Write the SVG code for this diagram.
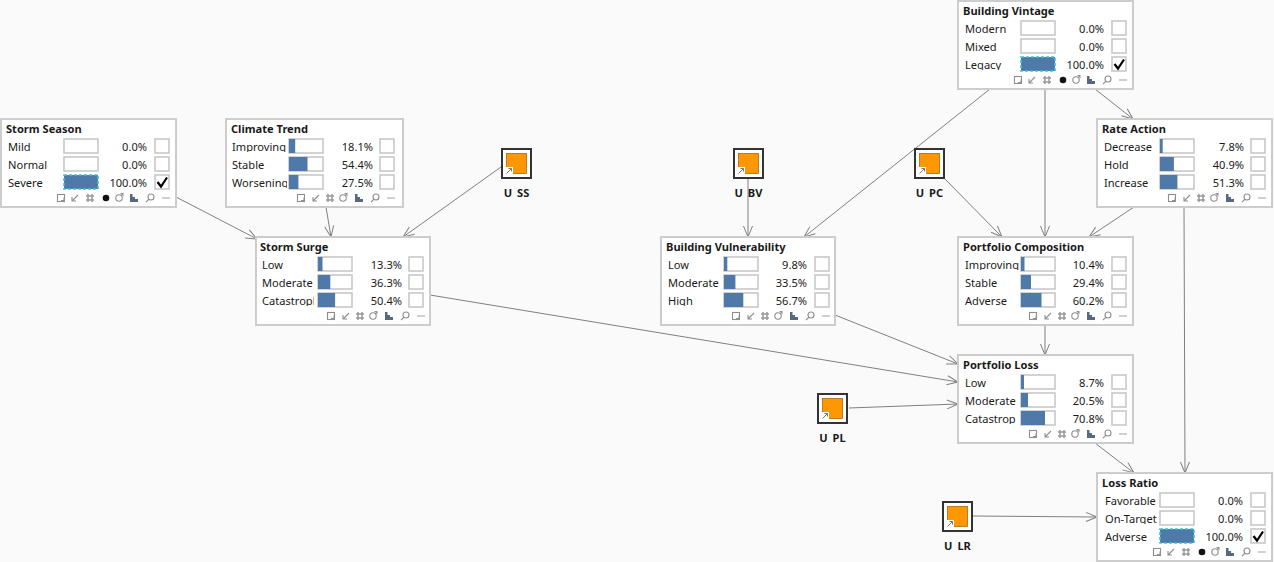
<svg xmlns="http://www.w3.org/2000/svg" width="1274" height="562" viewBox="0 0 1274 562">
<style>
text{font-family:"Noto Sans","Open Sans","DejaVu Sans",sans-serif;font-size:11.1px;fill:#1a1a1a}
.t{font-weight:700}
.p{text-anchor:end}
.u{font-weight:700;text-anchor:middle;word-spacing:2px}
.n{fill:#fff;stroke:#cdcdcd;stroke-width:2}
.b{fill:#fff;stroke:#c8c8c8;stroke-width:1.6}
.f{fill:#4f79a9}
.d{fill:#4f79a9;stroke:#3fc3d0;stroke-width:1.6;stroke-dasharray:3 2}
.e{fill:none;stroke:#808080;stroke-width:1;marker-end:url(#a)}
.k{fill:none;stroke:#000;stroke-width:2.2}
.i{fill:none;stroke:#8e8e8e;stroke-width:1.1}
.j{fill:#909090}
</style>
<defs>
<marker id="a" markerUnits="userSpaceOnUse" markerWidth="16" markerHeight="12" refX="13" refY="6" orient="auto"><path d="M2 1.500L13 6L2 10.500" fill="none" stroke="#808080" stroke-width="1"/></marker>
<clipPath id="c"><rect x="5" y="-9" width="53" height="14"/></clipPath>
<clipPath id="w"><rect x="5" y="-9" width="56" height="14"/></clipPath>
<g id="i1"><rect class="i" x="-3.500" y="-3.500" width="7" height="7"/><path class="j" d="M0 3.500h4v-4h-1.500v2.500h-2.500z"/></g>
<g id="i2"><path class="i" d="M3 -3L-2.500 2.500M-3 -1V3H1"/></g>
<g id="i3"><path d="M-4 -2H4M-4 2H4M-2 -4V4M2 -4V4" fill="none" stroke="#9a9a9a" stroke-width="1.500"/></g>
<g id="i4"><circle r="3.300" fill="#111"/></g>
<g id="i5"><circle class="i" r="3.200"/><path class="j" d="M1 -5h3.500v3.500z"/></g>
<g id="i6"><path d="M-4 4V-4h2.500V4zM-1.500 4V-1h2.500V4zM1 4V1h3V4z" fill="#56697f"/></g>
<g id="i7"><circle class="i" cx="1" cy="-1" r="3"/><path class="i" d="M-1 1.200L-4 4"/></g>
<g id="i8"><path d="M-4 0H4" fill="none" stroke="#aaa" stroke-width="1.100"/></g>
<g id="t1"><use href="#i1" x="60"/><use href="#i2" x="74"/><use href="#i3" x="89"/><use href="#i4" x="105"/><use href="#i5" x="118"/><use href="#i6" x="133"/><use href="#i7" x="149"/><use href="#i8" x="165"/></g>
<g id="t2"><use href="#i1" x="75"/><use href="#i2" x="90"/><use href="#i3" x="104"/><use href="#i5" x="117"/><use href="#i6" x="133"/><use href="#i7" x="149"/><use href="#i8" x="165"/></g>
<g id="ut"><rect x="1" y="1" width="29" height="29" fill="#fff" stroke="#333" stroke-width="2"/><rect x="5.500" y="5.500" width="20" height="20" fill="#ff9800" stroke="#a86a10" stroke-width="0.800"/><rect x="5" y="19" width="7" height="7" fill="#fff"/><path d="M5.500 25.500L10.500 20.500M7.500 20.500H10.500V23.500" fill="none" stroke="#777" stroke-width="1"/></g>
</defs>
<rect width="1274" height="562" fill="#fafafa"/>
<g id="connectors">
<path class="e" d="M176 197L257 239"/>
<path class="e" d="M326 207L331 237"/>
<path class="e" d="M501 167L403 237"/>
<path class="e" d="M430 295L958 382"/>
<path class="e" d="M990 89L804 237"/>
<path class="e" d="M1045 89V237"/>
<path class="e" d="M1095 89L1133 119"/>
<path class="e" d="M748 178V237"/>
<path class="e" d="M944 178L1002 237"/>
<path class="e" d="M1134 207L1089 237"/>
<path class="e" d="M1184 207L1185 473"/>
<path class="e" d="M835 315L958 364"/>
<path class="e" d="M1045 325V355"/>
<path class="e" d="M849 408L958 404"/>
<path class="e" d="M1095 443L1134 473"/>
<path class="e" d="M973 516L1097 517"/>
</g>
<g id="building-vintage" transform="translate(958,1)"><rect class="n" width="175" height="88"/><text class="t" x="5" y="14">Building Vintage</text>
<g transform="translate(0,28)"><text x="7" y="4" clip-path="url(#w)">Modern</text><rect class="b" x="63" y="-8" width="34" height="14"/><text class="p" x="146" y="4">0.0%</text><rect class="b" x="154" y="-8" width="14" height="14"/></g>
<g transform="translate(0,46)"><text x="7" y="4" clip-path="url(#w)">Mixed</text><rect class="b" x="63" y="-8" width="34" height="14"/><text class="p" x="146" y="4">0.0%</text><rect class="b" x="154" y="-8" width="14" height="14"/></g>
<g transform="translate(0,64)"><text x="7" y="4" clip-path="url(#w)">Legacy</text><rect class="d" x="63" y="-8" width="34" height="14"/><text class="p" x="146" y="4">100.0%</text><rect class="b" x="154" y="-8" width="14" height="14"/><path class="k" d="M156.500 -1L160 3.500L166 -5.500"/></g>
<use href="#t1" y="79"/></g>
<g id="storm-season" transform="translate(1,119)"><rect class="n" width="175" height="88"/><text class="t" x="5" y="14">Storm Season</text>
<g transform="translate(0,28)"><text x="7" y="4" clip-path="url(#w)">Mild</text><rect class="b" x="63" y="-8" width="34" height="14"/><text class="p" x="146" y="4">0.0%</text><rect class="b" x="154" y="-8" width="14" height="14"/></g>
<g transform="translate(0,46)"><text x="7" y="4" clip-path="url(#w)">Normal</text><rect class="b" x="63" y="-8" width="34" height="14"/><text class="p" x="146" y="4">0.0%</text><rect class="b" x="154" y="-8" width="14" height="14"/></g>
<g transform="translate(0,64)"><text x="7" y="4" clip-path="url(#w)">Severe</text><rect class="d" x="63" y="-8" width="34" height="14"/><text class="p" x="146" y="4">100.0%</text><rect class="b" x="154" y="-8" width="14" height="14"/><path class="k" d="M156.500 -1L160 3.500L166 -5.500"/></g>
<use href="#t1" y="79"/></g>
<g id="climate-trend" transform="translate(226,119)"><rect class="n" width="177" height="88"/><text class="t" x="5" y="14">Climate Trend</text>
<g transform="translate(0,28)"><text x="6" y="4" clip-path="url(#w)">Improving</text><rect class="b" x="63" y="-8" width="34" height="14"/><rect class="f" x="63" y="-8" width="6.200" height="14"/><text class="p" x="147" y="4">18.1%</text><rect class="b" x="154" y="-8" width="14" height="14"/></g>
<g transform="translate(0,46)"><text x="6" y="4" clip-path="url(#w)">Stable</text><rect class="b" x="63" y="-8" width="34" height="14"/><rect class="f" x="63" y="-8" width="18.500" height="14"/><text class="p" x="147" y="4">54.4%</text><rect class="b" x="154" y="-8" width="14" height="14"/></g>
<g transform="translate(0,64)"><text x="6" y="4" clip-path="url(#w)">Worsening</text><rect class="b" x="63" y="-8" width="34" height="14"/><rect class="f" x="63" y="-8" width="9.400" height="14"/><text class="p" x="147" y="4">27.5%</text><rect class="b" x="154" y="-8" width="14" height="14"/></g>
<use href="#t2" y="79"/></g>
<g id="rate-action" transform="translate(1097,119)"><rect class="n" width="175" height="88"/><text class="t" x="5" y="14">Rate Action</text>
<g transform="translate(0,28)"><text x="7" y="4" clip-path="url(#w)">Decrease</text><rect class="b" x="63" y="-8" width="34" height="14"/><rect class="f" x="63" y="-8" width="2.700" height="14"/><text class="p" x="147" y="4">7.8%</text><rect class="b" x="154" y="-8" width="14" height="14"/></g>
<g transform="translate(0,46)"><text x="7" y="4" clip-path="url(#w)">Hold</text><rect class="b" x="63" y="-8" width="34" height="14"/><rect class="f" x="63" y="-8" width="13.900" height="14"/><text class="p" x="147" y="4">40.9%</text><rect class="b" x="154" y="-8" width="14" height="14"/></g>
<g transform="translate(0,64)"><text x="7" y="4" clip-path="url(#w)">Increase</text><rect class="b" x="63" y="-8" width="34" height="14"/><rect class="f" x="63" y="-8" width="17.400" height="14"/><text class="p" x="147" y="4">51.3%</text><rect class="b" x="154" y="-8" width="14" height="14"/></g>
<use href="#t2" y="79"/></g>
<g id="storm-surge" transform="translate(256,237)"><rect class="n" width="174" height="88"/><text class="t" x="4" y="14">Storm Surge</text>
<g transform="translate(0,28)"><text x="6" y="4" clip-path="url(#c)">Low</text><rect class="b" x="62" y="-8" width="34" height="14"/><rect class="f" x="62" y="-8" width="4.500" height="14"/><text class="p" x="146" y="4">13.3%</text><rect class="b" x="153" y="-8" width="14" height="14"/></g>
<g transform="translate(0,46)"><text x="6" y="4" clip-path="url(#c)">Moderate</text><rect class="b" x="62" y="-8" width="34" height="14"/><rect class="f" x="62" y="-8" width="12.300" height="14"/><text class="p" x="146" y="4">36.3%</text><rect class="b" x="153" y="-8" width="14" height="14"/></g>
<g transform="translate(0,64)"><text x="6" y="4" clip-path="url(#c)">Catastrophic</text><rect class="b" x="62" y="-8" width="34" height="14"/><rect class="f" x="62" y="-8" width="17.100" height="14"/><text class="p" x="146" y="4">50.4%</text><rect class="b" x="153" y="-8" width="14" height="14"/></g>
<use href="#t2" y="79"/></g>
<g id="building-vulnerability" transform="translate(661,237)"><rect class="n" width="174" height="88"/><text class="t" x="5" y="14">Building Vulnerability</text>
<g transform="translate(0,28)"><text x="7" y="4" clip-path="url(#c)">Low</text><rect class="b" x="63" y="-8" width="34" height="14"/><rect class="f" x="63" y="-8" width="3.300" height="14"/><text class="p" x="146" y="4">9.8%</text><rect class="b" x="154" y="-8" width="14" height="14"/></g>
<g transform="translate(0,46)"><text x="7" y="4" clip-path="url(#c)">Moderate</text><rect class="b" x="63" y="-8" width="34" height="14"/><rect class="f" x="63" y="-8" width="11.400" height="14"/><text class="p" x="146" y="4">33.5%</text><rect class="b" x="154" y="-8" width="14" height="14"/></g>
<g transform="translate(0,64)"><text x="7" y="4" clip-path="url(#c)">High</text><rect class="b" x="63" y="-8" width="34" height="14"/><rect class="f" x="63" y="-8" width="19.300" height="14"/><text class="p" x="146" y="4">56.7%</text><rect class="b" x="154" y="-8" width="14" height="14"/></g>
<use href="#t2" y="79"/></g>
<g id="portfolio-composition" transform="translate(958,237)"><rect class="n" width="175" height="88"/><text class="t" x="5" y="14">Portfolio Composition</text>
<g transform="translate(0,28)"><text x="7" y="4" clip-path="url(#w)">Improving</text><rect class="b" x="63" y="-8" width="34" height="14"/><rect class="f" x="63" y="-8" width="3.500" height="14"/><text class="p" x="146" y="4">10.4%</text><rect class="b" x="154" y="-8" width="14" height="14"/></g>
<g transform="translate(0,46)"><text x="7" y="4" clip-path="url(#c)">Stable</text><rect class="b" x="63" y="-8" width="34" height="14"/><rect class="f" x="63" y="-8" width="10" height="14"/><text class="p" x="146" y="4">29.4%</text><rect class="b" x="154" y="-8" width="14" height="14"/></g>
<g transform="translate(0,64)"><text x="7" y="4" clip-path="url(#c)">Adverse</text><rect class="b" x="63" y="-8" width="34" height="14"/><rect class="f" x="63" y="-8" width="20.500" height="14"/><text class="p" x="146" y="4">60.2%</text><rect class="b" x="154" y="-8" width="14" height="14"/></g>
<use href="#t2" y="79"/></g>
<g id="portfolio-loss" transform="translate(958,355)"><rect class="n" width="175" height="88"/><text class="t" x="5" y="14">Portfolio Loss</text>
<g transform="translate(0,28)"><text x="7" y="4" clip-path="url(#c)">Low</text><rect class="b" x="63" y="-8" width="34" height="14"/><rect class="f" x="63" y="-8" width="3" height="14"/><text class="p" x="146" y="4">8.7%</text><rect class="b" x="154" y="-8" width="14" height="14"/></g>
<g transform="translate(0,46)"><text x="7" y="4" clip-path="url(#c)">Moderate</text><rect class="b" x="63" y="-8" width="34" height="14"/><rect class="f" x="63" y="-8" width="7" height="14"/><text class="p" x="146" y="4">20.5%</text><rect class="b" x="154" y="-8" width="14" height="14"/></g>
<g transform="translate(0,64)"><text x="7" y="4" clip-path="url(#c)">Catastrophic</text><rect class="b" x="63" y="-8" width="34" height="14"/><rect class="f" x="63" y="-8" width="24" height="14"/><text class="p" x="146" y="4">70.8%</text><rect class="b" x="154" y="-8" width="14" height="14"/></g>
<use href="#t2" y="79"/></g>
<g id="loss-ratio" transform="translate(1097,473)"><rect class="n" width="175" height="88"/><text class="t" x="5" y="14">Loss Ratio</text>
<g transform="translate(0,28)"><text x="8" y="4" clip-path="url(#w)">Favorable</text><rect class="b" x="63" y="-8" width="34" height="14"/><text class="p" x="146" y="4">0.0%</text><rect class="b" x="154" y="-8" width="14" height="14"/></g>
<g transform="translate(0,46)"><text x="8" y="4" clip-path="url(#w)">On-Target</text><rect class="b" x="63" y="-8" width="34" height="14"/><text class="p" x="146" y="4">0.0%</text><rect class="b" x="154" y="-8" width="14" height="14"/></g>
<g transform="translate(0,64)"><text x="8" y="4" clip-path="url(#w)">Adverse</text><rect class="d" x="63" y="-8" width="34" height="14"/><text class="p" x="146" y="4">100.0%</text><rect class="b" x="154" y="-8" width="14" height="14"/><path class="k" d="M156.500 -1L160 3.500L166 -5.500"/></g>
<use href="#t1" y="79"/></g>
<g id="u-ss" transform="translate(501,148)"><use href="#ut"/><text class="u" x="15.500" y="49">U SS</text></g>
<g id="u-bv" transform="translate(733,148)"><use href="#ut"/><text class="u" x="15.500" y="49">U BV</text></g>
<g id="u-pc" transform="translate(914,148)"><use href="#ut"/><text class="u" x="15.500" y="49">U PC</text></g>
<g id="u-pl" transform="translate(817,393)"><use href="#ut"/><text class="u" x="15.500" y="49">U PL</text></g>
<g id="u-lr" transform="translate(942,501)"><use href="#ut"/><text class="u" x="15.500" y="49">U LR</text></g>
</svg>
